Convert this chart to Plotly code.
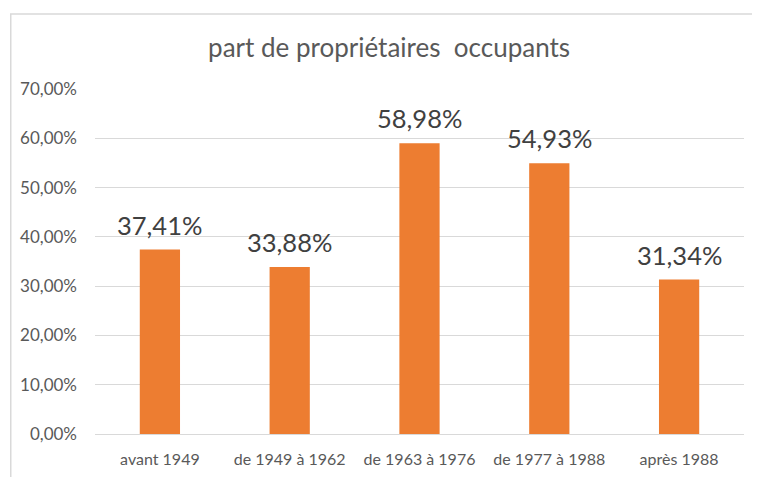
import plotly.graph_objects as go

categories = ["avant 1949", "de 1949 à 1962", "de 1963 à 1976", "de 1977 à 1988", "après 1988"]
values = [0.3741, 0.3388, 0.5898, 0.5493, 0.3134]
y_ticks = [0, 0.1, 0.2, 0.3, 0.4, 0.5, 0.6, 0.7]

FONT = "Lato, 'Open Sans', sans-serif"

# plot area (figure px): x 85..736, y 81..426
fig = go.Figure(go.Bar(
    x=categories, y=values,
    marker=dict(color="#ED7D31", line=dict(width=0)),
    cliponaxis=False, width=0.31, hoverinfo="x+y",
))

annotations = [
    dict(x=c, y=v, xref="x", yref="y", text=f"{v * 100:.2f}%".replace(".", ","),
         showarrow=False, yanchor="middle", yshift=25,
         font=dict(size=25.5, color="#404040", family=FONT))
    for c, v in zip(categories, values)
]

fig.update_layout(
    width=760, height=477,
    margin=dict(l=85, r=24, t=81, b=51),
    paper_bgcolor="white", plot_bgcolor="white",
    separators=", ",
    showlegend=False,
    annotations=annotations,
    title=dict(text="part de propriétaires  occupants", x=(380 - 85) / 651, xanchor="center", xref="paper",
               y=1 - 40 / 477, yanchor="middle",
               font=dict(size=26, color="#595959", family=FONT)),
    font=dict(family=FONT, color="#595959"),
    shapes=[dict(type="rect", xref="paper", yref="paper",
                 x0=(0.5 - 85) / 651, x1=1.3, y0=-0.4, y1=(426 - 6) / 345,
                 line=dict(color="#d9d9d9", width=1.5), fillcolor="rgba(0,0,0,0)", layer="below")],
)
fig.update_yaxes(range=[0, 0.7], tickvals=y_ticks, tickformat=".2%",
                 showgrid=True, gridcolor="#d9d9d9", gridwidth=1.3,
                 zeroline=False, showline=False, ticks="",
                 tickfont=dict(size=17, color="#595959"), ticklabelstandoff=17)
fig.update_xaxes(showline=True, linecolor="#d9d9d9", linewidth=1.3, ticks="",
                 tickfont=dict(size=16, color="#595959"), ticklabelstandoff=11)

fig.write_html("out.html")
